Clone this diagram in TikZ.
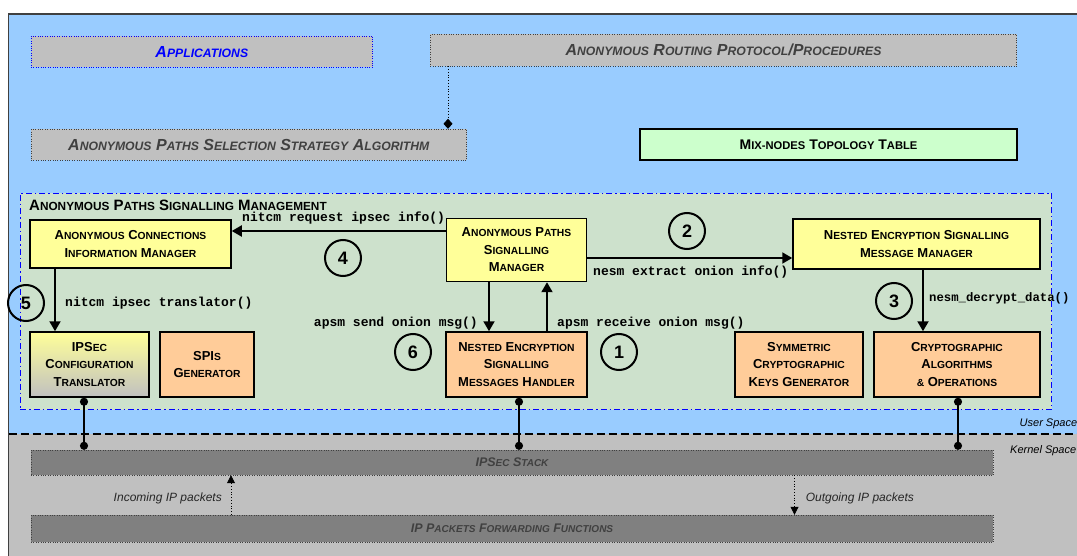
\documentclass[tikz,border=0pt]{standalone}
\usepackage{fontspec}
\setmainfont{Liberation Sans}
\setmonofont{Liberation Mono}
\usetikzlibrary{arrows.meta}
\definecolor{skyblue}{HTML}{99CCFF}
\definecolor{kernelgray}{HTML}{C0C0C0}
\definecolor{stackgray}{HTML}{808080}
\definecolor{framegray}{HTML}{404040}
\definecolor{paleyellow}{HTML}{FFFF99}
\definecolor{peach}{HTML}{FFCC99}
\definecolor{mintgreen}{HTML}{CCFFCC}
\definecolor{regiongreen}{HTML}{CDE1CC}
\definecolor{appblue}{HTML}{0000FF}
\definecolor{dimtext}{HTML}{404040}
\newcommand{\smsz}{9.5}
\newcommand{\sm}[1]{{\fontsize{\smsz}{\smsz}\selectfont\MakeUppercase{#1}}}

\tikzset{
  upperbox/.style={draw=framegray,dotted,fill=kernelgray,inner sep=0,
    font={\bfseries\itshape\fontsize{16}{18}\selectfont\def\smsz{12.2}},text=dimtext},
  stackbox/.style={draw=framegray,dotted,fill=stackgray,inner sep=0,
    font={\bfseries\itshape\fontsize{12.5}{14}\selectfont\def\smsz{10}},text=dimtext},
  modbox/.style={draw,line width=1.5pt,inner sep=0,align=center,
    font={\bfseries\fontsize{13}{17.5}\selectfont\def\smsz{10.3}}},
  flow/.style={line width=2pt,-{Triangle[length=10pt,width=11pt]}},
  kline/.style={line width=2pt,{Circle[length=8pt]}-{Circle[length=8pt]}},
  pktflow/.style={dotted,line width=0.8pt,-{Triangle[length=8pt,width=8pt]}},
  callname/.style={inner sep=0,font=\ttfamily\bfseries\fontsize{13}{13}\selectfont},
  numcircle/.style={circle,draw,line width=2pt,minimum size=36pt,inner sep=0,
    font=\bfseries\fontsize{18}{18}\selectfont},
  spacename/.style={inner sep=0,anchor=west,font=\itshape\fontsize{11}{11}\selectfont}
}

\begin{document}
\begin{tikzpicture}[x=1pt,y=-1pt]
\useasboundingbox (0,0) rectangle (1077,556);
\fill[white] (0,0) rectangle (1077,556);
\fill[skyblue] (8.6,13.8) rectangle (1090,434);
\fill[kernelgray] (8.6,434) rectangle (1090,570);
\draw[framegray,line width=1.5pt] (8.6,570) -- (8.6,13.8) -- (1090,13.8);
\draw[line width=1.5pt,dash pattern=on 8pt off 4pt] (8.6,434) -- (1090,434);
\node[spacename] (user) at (1019.5,424) {User Space};
\node[spacename] (kernel) at (1010,450.6) {Kernel Space};

\node[upperbox,draw=appblue,text=appblue,minimum width=341.6pt,minimum height=31.7pt] (apps) at (201.8,51.6) {A\sm{pplications}};
\node[upperbox,minimum width=586.3pt,minimum height=31.6pt] (routing) at (723.5,50.2) {A\sm{nonymous} R\sm{outing} P\sm{rotocol}/P\sm{rocedures}};
\node[upperbox,minimum width=435.6pt,minimum height=31pt] (select) at (248.8,144.5) {A\sm{nonymous} P\sm{aths} S\sm{election} S\sm{trategy} A\sm{lgorithm}};
\node[modbox,fill=mintgreen,minimum width=377pt,minimum height=31pt,font={\bfseries\fontsize{14}{16}\selectfont\def\smsz{11.2}}] (mixtab) at (828.5,144.5) {M\sm{ix-nodes} T\sm{opology} T\sm{able}};
\draw[dotted,line width=0.8pt,-{Diamond[length=10pt,width=9pt]}] (routing.south -| 448,0) -- (select.north -| 448,0);

\node[draw=appblue,dash pattern=on 6pt off 3pt on 1.5pt off 3pt,fill=regiongreen,minimum width=1031.6pt,minimum height=216.6pt,inner sep=0] (apsmgmt) at (535.8,301.3) {};
\node[anchor=west,inner sep=0,font={\bfseries\fontsize{15}{15}\selectfont\def\smsz{11.8}}] (title) at (29,205) {A\sm{nonymous} P\sm{aths} S\sm{ignalling} M\sm{anagement}};

\node[modbox,fill=paleyellow,minimum width=201pt,minimum height=48pt] (acim) at (130.5,244) {A\sm{nonymous} C\sm{onnections}\\I\sm{nformation} M\sm{anager}};
\node[modbox,fill=paleyellow,minimum width=140pt,minimum height=63pt] (apsm) at (516.5,250) {A\sm{nonymous} P\sm{aths}\\S\sm{ignalling}\\M\sm{anager}};
\node[modbox,fill=paleyellow,minimum width=247pt,minimum height=50pt] (nesmm) at (916.5,244) {N\sm{ested} E\sm{ncryption} S\sm{ignalling}\\M\sm{essage} M\sm{anager}};
\node[modbox,top color=paleyellow,bottom color=kernelgray,minimum width=119pt,minimum height=65pt] (ipsec) at (89.5,364.5) {IPS\sm{ec}\\C\sm{onfiguration}\\T\sm{ranslator}};
\node[modbox,fill=peach,minimum width=94pt,minimum height=65pt] (spis) at (207,364.5) {SPI\sm{s}\\G\sm{enerator}};
\node[modbox,fill=peach,minimum width=141pt,minimum height=65pt] (nesmh) at (516.5,364.5) {N\sm{ested} E\sm{ncryption}\\S\sm{ignalling}\\M\sm{essages} H\sm{andler}};
\node[modbox,fill=peach,minimum width=128pt,minimum height=65pt] (sckg) at (799,364.5) {S\sm{ymmetric}\\C\sm{ryptographic}\\K\sm{eys} G\sm{enerator}};
\node[modbox,fill=peach,minimum width=166pt,minimum height=65pt] (cao) at (957,364.5) {C\sm{ryptographic}\\A\sm{lgorithms}\\\sm{\&} O\sm{perations}};

\draw[flow] (apsm.west |- 0,231) -- (acim.east |- 0,231);
\draw[flow] (apsm.east |- 0,258) -- (nesmm.west |- 0,258);
\draw[flow] (acim.south -| 55,0) -- (ipsec.north -| 55,0);
\draw[flow] (apsm.south -| 489,0) -- (nesmh.north -| 489,0);
\draw[flow] (nesmh.north -| 547,0) -- (apsm.south -| 547,0);
\draw[flow] (nesmm.south -| 923,0) -- (cao.north -| 923,0);

\node[callname,anchor=west] (req) at (242,218) {nitcm request ipsec info()};
\node[callname,anchor=west] (extract) at (593,272) {nesm extract onion info()};
\node[callname,anchor=west] (transl) at (65,303) {nitcm ipsec translator()};
\node[callname,anchor=east] (send) at (478,323) {apsm send onion msg()};
\node[callname,anchor=west] (recv) at (557,323) {apsm receive onion msg()};
\node[callname,anchor=west,font=\ttfamily\bfseries\fontsize{12.3}{12.3}\selectfont] (decrypt) at (929,298) {nesm\_decrypt\_data()};

\foreach \n/\cx/\cy in {1/619/352,2/687/231,3/894/301,4/343/258,5/26/303,6/413/352}
  \node[numcircle] (step\n) at (\cx,\cy) {\n};

\node[stackbox,minimum width=962pt,minimum height=25pt] (stack) at (512,462.5) {IPS\sm{ec} S\sm{tack}};
\node[stackbox,minimum width=962pt,minimum height=27pt] (fwd) at (512,528.5) {IP P\sm{ackets} F\sm{orwarding} F\sm{unctions}};

\draw[kline] (ipsec.south -| 84,0) -- (stack.north -| 84,0);
\draw[kline] (nesmh.south -| 519,0) -- (stack.north -| 519,0);
\draw[kline] (cao.south -| 958,0) -- (stack.north -| 958,0);

\draw[pktflow] (fwd.north -| 231,0) -- (stack.south -| 231,0);
\draw[pktflow] (stack.south -| 794.5,0) -- (fwd.north -| 794.5,0);
\node[anchor=east,inner sep=0,font=\itshape\fontsize{12}{12}\selectfont,text=black!85] (incoming) at (222,498) {Incoming IP packets};
\node[anchor=west,inner sep=0,font=\itshape\fontsize{12}{12}\selectfont,text=black!85] (outgoing) at (805.6,498) {Outgoing IP packets};
\end{tikzpicture}
\end{document}
